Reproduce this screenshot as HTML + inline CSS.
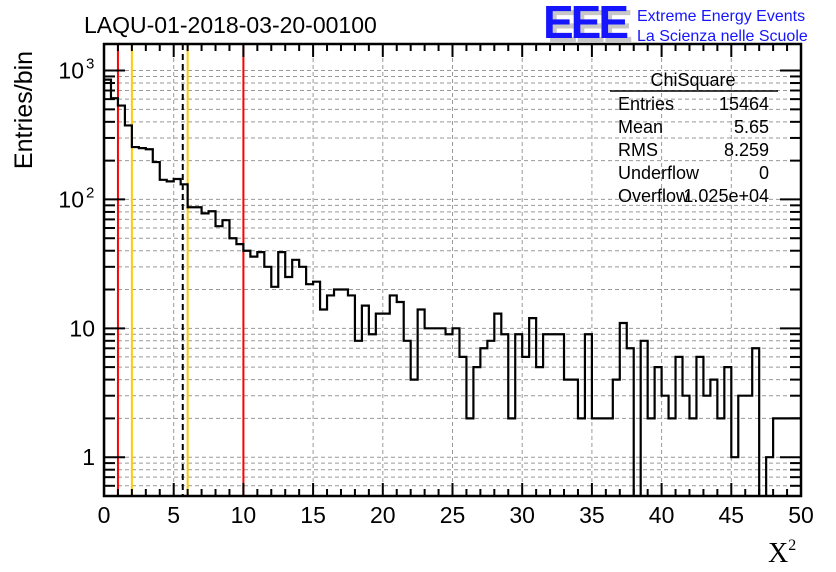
<!DOCTYPE html>
<html><head><meta charset="utf-8"><style>
html,body{margin:0;padding:0;background:#fff;}
svg{display:block;font-family:"Liberation Sans",sans-serif;}
</style></head><body>
<svg id="chart" width="836" height="572" viewBox="0 0 836 572">
<text x="84" y="33" font-size="23">LAQU-01-2018-03-20-00100</text>
<g>
<text x="547" y="42" font-size="46" font-weight="bold" fill="#c8c8c8" letter-spacing="-3">EEE</text>
<text x="543" y="38" font-size="46" font-weight="bold" fill="#1515ff" letter-spacing="-3">EEE</text>
<text x="637" y="21" font-size="16" fill="#1515ff">Extreme Energy Events</text>
<text x="637" y="41" font-size="16" fill="#1515ff">La Scienza nelle Scuole</text>
</g>
<text transform="translate(32,110) rotate(-90)" font-size="25" text-anchor="middle">Entries/bin</text>
<text x="768" y="562" font-size="28" font-family="Liberation Serif,serif">X<tspan font-size="16" dy="-12">2</tspan></text>
<g id="grid"></g><g id="marks"></g><g id="axes"></g>
<g font-size="18">
<text x="693" y="86" text-anchor="middle">ChiSquare</text>
<line x1="610" y1="91" x2="778" y2="91" stroke="#000" stroke-width="1.5"/>
<text x="618" y="110">Entries</text><text x="769" y="110" text-anchor="end">15464</text>
<text x="618" y="133">Mean</text><text x="769" y="133" text-anchor="end">5.65</text>
<text x="618" y="156">RMS</text><text x="769" y="156" text-anchor="end">8.259</text>
<text x="618" y="179">Underflow</text><text x="769" y="179" text-anchor="end">0</text>
<text x="618" y="202">Overflow</text><text x="769" y="202" text-anchor="end">1.025e+04</text>
</g>
</svg>
<script>
const binWidth = 0.5;
const counts = [850,610,535,375,255,250,245,195,142,138,144,131,87,87,78,81,62,69,50,45,
40,36,39,30,21,39,25,34,30,22,23,14,18,20,20,18,8,15,9,13,
13,18,16,8,4,14,10,10,10,9,10,6,2,5,7,8,13,9,2,9,
6,12,5,9,9,9,4,4,2,9,2,2,2,4,11,7,0,8,2,5,
3,2,6,3,2,6,3,4,2,5,1,3,3,7,0,1,2,2,2,2];
const cutLines = [{x:1,c:'#ff0000',d:''},{x:2,c:'#ffcc00',d:''},{x:5.65,c:'#000',d:'6,4'},{x:6,c:'#ffcc00',d:''},{x:10,c:'#ff0000',d:''}];
const xTicks = [0,5,10,15,20,25,30,35,40,45,50];
const yMajor = [1,10,100,1000];
const L=104,R=801,T=44,B=496,xMin=0,xMax=50,yMinLog=Math.log10(0.5),yMaxLog=3.206;
const NS='http://www.w3.org/2000/svg';
const X=v=>L+(v-xMin)/(xMax-xMin)*(R-L);
const Y=v=>v<=0?B+20:B-(Math.log10(v)-yMinLog)/(yMaxLog-yMinLog)*(B-T);
function mk(t,a,p){const e=document.createElementNS(NS,t);for(const k in a)e.setAttribute(k,a[k]);p.appendChild(e);return e;}
const grid=document.getElementById('grid'),marks=document.getElementById('marks'),axes=document.getElementById('axes');
for(const d of [0.1,1,10,100,1000]){for(let m=1;m<10;m++){const v=d*m;if(v<0.5||Math.log10(v)>yMaxLog)continue;const y=Y(v);
const g=mk('line',{x1:L,x2:R,y1:y,y2:y,stroke:'#999','stroke-dasharray':'4,3','stroke-width':1},grid);


const t1=mk('line',{x1:L,x2:L+(m===1?21:11),y1:y,y2:y,stroke:'#000','stroke-width':2},axes);


const t2=mk('line',{x1:R,x2:R-(m===1?21:11),y1:y,y2:y,stroke:'#000','stroke-width':2},axes);

}}
for(const v of xTicks){if(v===0||v===50)continue;const x=X(v);
const g=mk('line',{x1:x,x2:x,y1:T,y2:B,stroke:'#999','stroke-dasharray':'4,3','stroke-width':1},grid);

}
for(const c of cutLines){const l=mk('line',{x1:X(c.x),x2:X(c.x),y1:T,y2:B,stroke:c.c,'stroke-width':2,'stroke-dasharray':c.d},marks);

}
mk('clipPath',{id:'pc'},marks);
mk('rect',{x:L,y:T,width:R-L,height:B-T},document.getElementById('pc'));
let d='M'+X(0)+','+B;
counts.forEach((c,i)=>{const y=Math.min(Y(c),B+20);d+=' L'+X(i*binWidth)+','+y+' L'+X((i+1)*binWidth)+','+y;});
const h=mk('path',{d:d,fill:'none',stroke:'#000','stroke-width':2.2,'clip-path':'url(#pc)'},marks);


const f=mk('rect',{x:L,y:T,width:R-L,height:B-T,fill:'none',stroke:'#000','stroke-width':2.5},axes);


for(let v=0;v<=50;v++){const x=X(v),len=v%5===0?13:7;
const t=mk('line',{x1:x,x2:x,y1:B,y2:B-len,stroke:'#000','stroke-width':2},axes);


const t2=mk('line',{x1:x,x2:x,y1:T,y2:T+len,stroke:'#000','stroke-width':2},axes);

}
for(const v of xTicks){const t=mk('text',{x:X(v),y:523,'font-size':23,'text-anchor':'middle'},axes);t.textContent=v;

}
const ylab=['1','10','10','10'],ysup=['','','2','3'];
yMajor.forEach((v,i)=>{const t=mk('text',{x:i>=2?84:95,y:Y(v)+8,'font-size':23,'text-anchor':'end'},axes);t.textContent=ylab[i];


if(ysup[i]){const s=mk('text',{x:86,y:Y(v)-2,'font-size':15},axes);s.textContent=ysup[i];

}});
</script>
</body></html>
